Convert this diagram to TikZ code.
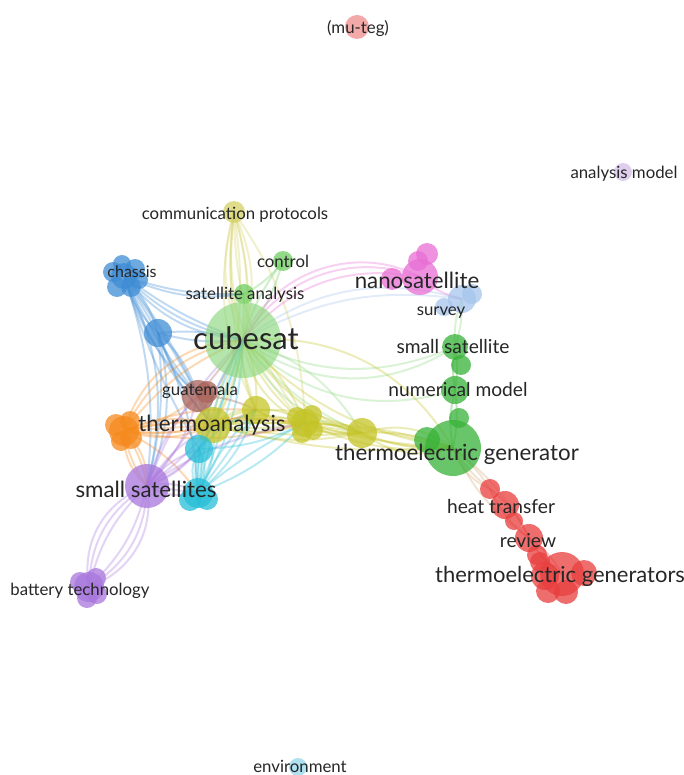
\documentclass[tikz,border=0pt]{standalone}
\usepackage{fontspec}
\setmainfont{Lato}
\definecolor{cgreen}{RGB}{55,178,55}
\definecolor{clgreen}{RGB}{140,215,125}
\definecolor{cgreen2}{RGB}{110,205,95}
\definecolor{cred}{RGB}{232,62,62}
\definecolor{colive}{RGB}{196,196,40}
\definecolor{ccomm}{RGB}{212,208,100}
\definecolor{cblue}{RGB}{62,140,212}
\definecolor{cpink}{RGB}{232,110,212}
\definecolor{clblue}{RGB}{165,196,236}
\definecolor{corange}{RGB}{245,138,30}
\definecolor{cpurple}{RGB}{168,118,220}
\definecolor{ccyan}{RGB}{38,190,215}
\definecolor{cbrown}{RGB}{168,98,88}
\definecolor{cmu}{RGB}{240,140,140}
\definecolor{cam}{RGB}{212,190,232}
\definecolor{cenv}{RGB}{150,215,235}
\definecolor{ctext}{RGB}{38,38,38}
\definecolor{ctan}{RGB}{215,170,120}
\newcommand\fsz[1]{\fontsize{#1}{#1}\selectfont}
\newcommand\bundle[4]{\foreach \bb in {#4} {\draw[edge,#3] (#1.center) to[bend left=\bb] (#2.center);}}
\pgfdeclarelayer{edges}
\pgfsetlayers{edges,main}
\tikzset{
  bub/.style={circle, inner sep=0pt, minimum size={2*#1pt}, fill opacity=0.75},
  lbl/.style={inner sep=0pt, text=ctext, anchor=center},
  big/.style={lbl, font=\fsz{22.3}},
  mid/.style={lbl, font=\fsz{19.2}},
  small/.style={lbl, font=\fsz{16.8}},
  edge/.style={line width=2pt, draw opacity=0.32},
}
\begin{document}
\begin{tikzpicture}[x=1pt,y=-1pt]
\useasboundingbox (0,0) rectangle (684,775);

% isolated terms
\node[bub=12, fill=cmu] (mu) at (357,27) {};
\node[bub=9, fill=cam] (am) at (623,172) {};
\node[bub=9, fill=cenv] (env) at (298,767) {};

% upper green / yellow terms
\node[bub=11, fill=ccomm] (comm) at (234,212) {};
\node[bub=10, fill=cgreen2] (ctrl) at (283,261) {};
\node[bub=10, fill=cgreen2] (sa) at (244,294) {};
\node[bub=38, fill=clgreen, fill opacity=0.65] (cub) at (243,340) {};

% chassis cluster
\node[bub=13, fill=cblue] (ch) at (124,276) {};
\node[bub=10, fill=cblue] (ch2) at (113,272) {};
\node[bub=10, fill=cblue] (ch3) at (135,269) {};
\node[bub=10, fill=cblue] (ch4) at (117,287) {};
\node[bub=10, fill=cblue] (ch5) at (131,287) {};
\node[bub=9, fill=cblue] (ch6) at (122,264) {};
\node[bub=9, fill=cblue] (ch7) at (139,280) {};
\node[bub=14, fill=cblue] (bl) at (158,333) {};

% guatemala
\node[bub=16, fill=cbrown] (gua) at (198,396) {};
\node[bub=11, fill=cbrown] (gua2) at (207,392) {};

% nanosatellite cluster
\node[bub=18, fill=cpink] (na) at (420,277) {};
\node[bub=11, fill=cpink] (na2) at (427,254) {};
\node[bub=10, fill=cpink] (na3) at (418,261) {};
\node[bub=11, fill=cpink] (na4) at (392,279) {};

% survey cluster
\node[bub=14, fill=clblue] (sv) at (462,299) {};
\node[bub=10, fill=clblue] (sv2) at (472,294) {};
\node[bub=9, fill=clblue] (sv3) at (444,307) {};

% green chain
\node[bub=13, fill=cgreen] (ss) at (455,347) {};
\node[bub=10, fill=cgreen] (g2) at (461,365) {};
\node[bub=14, fill=cgreen] (nm) at (455,390) {};
\node[bub=10, fill=cgreen] (g3) at (459,418) {};
\node[bub=28, fill=cgreen] (teg) at (453,448) {};
\node[bub=13, fill=cgreen] (g4) at (427,440) {};

% red chain
\node[bub=10, fill=cred] (ht) at (490,489) {};
\node[bub=14, fill=cred] (r2) at (505,505) {};
\node[bub=9, fill=cred] (r3) at (514,521) {};
\node[bub=14, fill=cred] (rev) at (529,538) {};
\node[bub=10, fill=cred] (r4) at (537,555) {};
\node[bub=22, fill=cred] (tgs) at (562,574) {};
\node[bub=14, fill=cred] (t2) at (545,576) {};
\node[bub=13, fill=cred] (t3) at (584,573) {};
\node[bub=12, fill=cred] (t4) at (548,591) {};
\node[bub=12, fill=cred] (t5) at (566,592) {};
\node[bub=10, fill=cred] (t6) at (540,562) {};

% olive chain
\node[bub=18, fill=colive] (ta) at (213,425) {};
\node[bub=14, fill=colive] (o2) at (256,410) {};
\node[bub=14, fill=colive] (o3) at (305,423) {};
\node[bub=10, fill=colive] (o3b) at (297,417) {};
\node[bub=10, fill=colive] (o3c) at (313,430) {};
\node[bub=10, fill=colive] (o3d) at (302,433) {};
\node[bub=10, fill=colive] (o3e) at (312,415) {};
\node[bub=15, fill=colive] (o4) at (362,433) {};

% orange cluster
\node[bub=15, fill=corange] (or) at (124,431) {};
\node[bub=11, fill=corange] (or2) at (116,425) {};
\node[bub=11, fill=corange] (or3) at (131,438) {};
\node[bub=10, fill=corange] (or4) at (121,441) {};
\node[bub=10, fill=corange] (or5) at (130,421) {};

% cyan terms
\node[bub=14, fill=ccyan] (cy1) at (199,449) {};
\node[bub=15, fill=ccyan] (cy2) at (198,493) {};
\node[bub=11, fill=ccyan] (cy3) at (190,500) {};
\node[bub=11, fill=ccyan] (cy4) at (207,499) {};

% purple terms
\node[bub=22, fill=cpurple] (ssat) at (147,486) {};
\node[bub=15, fill=cpurple] (bt) at (89,587) {};
\node[bub=10, fill=cpurple] (bt2) at (80,582) {};
\node[bub=10, fill=cpurple] (bt3) at (97,594) {};
\node[bub=10, fill=cpurple] (bt4) at (87,598) {};
\node[bub=10, fill=cpurple] (bt5) at (96,578) {};

% links
\begin{pgfonlayer}{edges}
\bundle{comm}{cub}{ccomm}{-20,-12,12,20}
\bundle{comm}{o2}{ccomm}{-20,-12}
\bundle{comm}{o3}{ccomm}{-26,-18,16}
\bundle{comm}{ta}{ccomm}{14,22}
\bundle{ctrl}{cub}{cgreen2}{-10,10}
\bundle{ctrl}{sa}{cgreen2}{12}
\bundle{sa}{cub}{cgreen2}{0}
\bundle{ch}{cub}{cblue}{-22,-15,-8}
\bundle{ch}{sa}{cblue}{-16,-10}
\bundle{ch}{bl}{cblue}{-14,0,14}
\bundle{ch}{gua}{cblue}{-14,-6,6}
\bundle{ch}{ta}{cblue}{-10,4}
\bundle{ch}{ssat}{cblue}{12,20}
\bundle{ch}{cy1}{cblue}{-6}
\bundle{bl}{cub}{cblue}{-10,10}
\bundle{bl}{gua}{cblue}{-14,14}
\bundle{bl}{ta}{cblue}{-12}
\bundle{bl}{ssat}{cblue}{10,18}
\bundle{bl}{cy2}{cblue}{10}
\bundle{cub}{na}{cpink}{30,40,48}
\bundle{cub}{sv}{clblue}{18,26}
\bundle{cub}{ss}{clgreen}{-24,-34}
\bundle{cub}{nm}{clgreen}{-30}
\bundle{cub}{o4}{clgreen}{-26,-14,20}
\bundle{cub}{teg}{colive}{-28,-18,32}
\bundle{cub}{o3}{colive}{-28,-14,14}
\bundle{cub}{o2}{colive}{-14,14}
\bundle{cub}{ta}{colive}{-12,12}
\bundle{cub}{gua}{cbrown}{0}
\bundle{cub}{or}{corange}{-14,-26,-36}
\bundle{cub}{cy1}{ccyan}{-10,6}
\bundle{cub}{cy2}{ccyan}{-10,-3,6,14}
\bundle{cub}{ssat}{cpurple}{-12,6}
\bundle{ta}{o2}{colive}{-22,-12,12,22}
\bundle{ta}{o3}{colive}{-18,-9,9,18}
\bundle{ta}{o4}{colive}{-14,-7,7,14}
\bundle{ta}{teg}{colive}{-9,9}
\bundle{o2}{o3}{colive}{-18,18}
\bundle{o2}{o4}{colive}{-14,14}
\bundle{o3}{o4}{colive}{-20,-9,9,20}
\bundle{o3}{teg}{colive}{-14,-6,8}
\bundle{o4}{teg}{colive}{-26,-12,12,26}
\bundle{or}{ta}{corange}{-20,-10,0,10,20}
\bundle{or}{o2}{corange}{-14,12}
\bundle{or}{o3}{corange}{-12,9}
\bundle{or}{gua}{corange}{-14}
\bundle{or}{ssat}{corange}{-24,-12,12,24}
\bundle{or}{cy2}{corange}{14}
\bundle{ssat}{bt}{cpurple}{-40,-28,-16,16,28,40}
\bundle{ssat}{cy2}{cpurple}{-20,0,20}
\bundle{ssat}{cy1}{cpurple}{-16,16}
\bundle{ssat}{ta}{cpurple}{-20,-6,14}
\bundle{ssat}{gua}{cpurple}{-14,14}
\bundle{ssat}{o3}{cpurple}{12}
\bundle{cy2}{cy1}{ccyan}{-28,-14,0,14,28}
\bundle{cy2}{ta}{ccyan}{-18,18}
\bundle{cy2}{o2}{ccyan}{-14,-3,9}
\bundle{cy2}{o3}{ccyan}{-12,6}
\bundle{cy1}{o3}{ccyan}{-12}
\bundle{cy1}{o2}{ccyan}{12}
\bundle{gua}{ta}{cbrown}{-14,14}
\bundle{gua}{o2}{cbrown}{12}
\bundle{na}{sv}{cpink}{-14}
\bundle{sv}{ss}{clgreen}{-12,9}
\bundle{ss}{nm}{cgreen}{-9,9}
\bundle{nm}{teg}{cgreen}{-12,9}
\bundle{teg}{ht}{ctan}{-22,-9,9}
\bundle{teg}{rev}{ctan}{-14,12}
\bundle{ht}{rev}{cred}{-14,14}
\bundle{rev}{tgs}{cred}{-12,12}
\end{pgfonlayer}

% term labels
\node[small] (mu-t) at (358,29) {(mu-teg)};
\node[small] (am-t) at (624,174) {analysis model};
\node[small] (env-t) at (300,766) {environment};
\node[small] (comm-t) at (235,215) {communication protocols};
\node[small] (ctrl-t) at (283,261) {control};
\node[small] (sa-t) at (245,295) {satellite analysis};
\node[lbl, font=\fsz{31}] (cub-t) at (246,338) {cubesat};
\node[small, font=\fsz{16}] (ch-t) at (132,272) {chassis};
\node[small] (gua-t) at (200,391) {guatemala};
\node[big] (na-t) at (417,280) {nanosatellite};
\node[small] (sv-t) at (441,313) {survey};
\node[mid] (ss-t) at (453,347) {small satellite};
\node[mid] (nm-t) at (458,390) {numerical model};
\node[big] (teg-t) at (457,454) {thermoelectric generator};
\node[mid] (ht-t) at (501,507) {heat transfer};
\node[mid] (rev-t) at (528,541) {review};
\node[big, font=\fsz{22}] (tgs-t) at (560,576) {thermoelectric generators};
\node[big] (ta-t) at (212,425) {thermoanalysis};
\node[big] (ssat-t) at (146,489) {small satellites};
\node[small] (bt-t) at (80,591) {battery technology};
\end{tikzpicture}
\end{document}
